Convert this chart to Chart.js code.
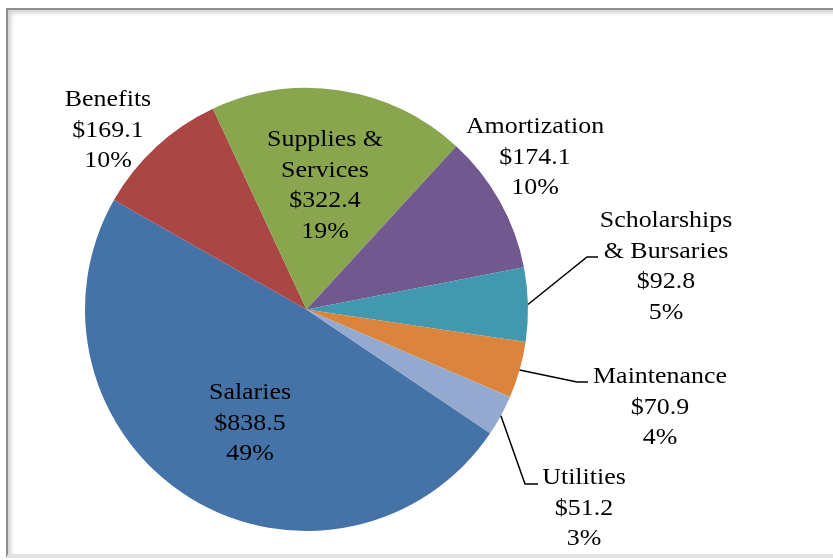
<!DOCTYPE html>
<html>
<head>
<meta charset="utf-8">
<script src="https://cdn.jsdelivr.net/npm/chart.js@4"></script>
<style>
  html, body { margin: 0; padding: 0; background: #ffffff; }
  body { width: 833px; height: 560px; position: relative; overflow: hidden; }
  #frame {
    position: absolute; left: 6px; top: 8px; width: 900px; height: 544px;
    border-top: 2px solid #8e8e8e; border-left: 2px solid #8e8e8e;
    border-bottom: 4px solid #e2e2e2;
    box-shadow: inset 3px 3px 4px rgba(0,0,0,0.18);
    background: #ffffff;
  }
  #c { position: absolute; left: 0; top: 0; }
</style>
</head>
<body>
<div id="frame"></div>
<canvas id="c" width="833" height="560"></canvas>
<script>
// ---- data ----
const categories = ['Salaries', 'Benefits', 'Supplies & Services', 'Amortization', 'Scholarships & Bursaries', 'Maintenance', 'Utilities'];
const values = [838.5, 169.1, 322.4, 174.1, 92.8, 70.9, 51.2];
const labelNameLines = [['Salaries'], ['Benefits'], ['Supplies &', 'Services'], ['Amortization'], ['Scholarships', '& Bursaries'], ['Maintenance'], ['Utilities']];
const colors = ['#4572A7', '#AA4643', '#89A54E', '#71588F', '#4198AF', '#DB843D', '#93A9CF'];

// ---- label layout (relative to pie centre, px) ----
const labelPos = [
  { x: -56.5, y: 89.5 },
  { x: -198.5, y: -203.5 },
  { x: 18.5, y: -163.5 },
  { x: 228.5, y: -176.5 },
  { x: 359.5, y: -82.5 },
  { x: 353.5, y: 73.5 },
  { x: 277.5, y: 174.5 }
];
const leaders = [
  null, null, null, null,
  { elbow: [280.5, -52.5], end: [291.5, -52.5] },
  { elbow: [270.5, 72.5], end: [281.5, 72.5] },
  { elbow: [218.5, 174.5], end: [231.5, 174.5] }
];
const linePitch = 30.5;

const total = values.reduce((a, b) => a + b, 0);

const labelPlugin = {
  id: 'pieLabels',
  afterDatasetsDraw(chart) {
    const ctx = chart.ctx;
    const meta = chart.getDatasetMeta(0);
    meta.data.forEach((arc, i) => {
      const p = arc.getProps(['x', 'y', 'startAngle', 'endAngle', 'outerRadius'], true);
      const cx = p.x, cy = p.y;
      const lead = leaders[i];
      if (lead) {
        const mid = (p.startAngle + p.endAngle) / 2;
        const sx = cx + Math.cos(mid) * p.outerRadius;
        const sy = cy + Math.sin(mid) * p.outerRadius;
        ctx.save();
        ctx.strokeStyle = '#000000';
        ctx.lineWidth = 1.5;
        ctx.beginPath();
        ctx.moveTo(sx, sy);
        ctx.lineTo(cx + lead.elbow[0], cy + lead.elbow[1]);
        ctx.lineTo(cx + lead.end[0], cy + lead.end[1]);
        ctx.stroke();
        ctx.restore();
      }
      const lines = labelNameLines[i].concat(['$' + values[i].toFixed(1), Math.round(values[i] / total * 100) + '%']);
      const lx = cx + labelPos[i].x;
      const ly = cy + labelPos[i].y;
      ctx.save();
      ctx.fillStyle = '#000000';
      ctx.font = '24px "Liberation Serif", "Times New Roman", serif';
      ctx.textAlign = 'center';
      ctx.textBaseline = 'alphabetic';
      lines.forEach((t, k) => {
        ctx.save();
        ctx.translate(lx, ly + k * linePitch);
        ctx.scale(1.08, 1);
        ctx.fillText(t, 0, 0);
        ctx.restore();
      });
      ctx.restore();
    });
  }
};

new Chart(document.getElementById('c'), {
  type: 'pie',
  data: {
    labels: categories,
    datasets: [{
      data: values,
      backgroundColor: colors,
      borderWidth: 0,
      hoverOffset: 0
    }]
  },
  options: {
    responsive: false,
    animation: false,
    rotation: 124,
    layout: { padding: { left: 85, right: 305, top: 88, bottom: 29 } },
    plugins: {
      legend: { display: false },
      tooltip: { enabled: false }
    }
  },
  plugins: [labelPlugin]
});
</script>
</body>
</html>
